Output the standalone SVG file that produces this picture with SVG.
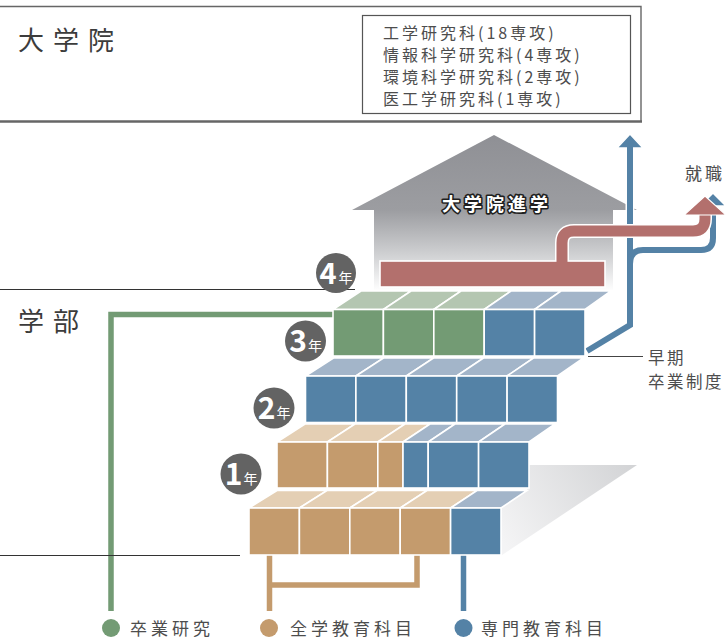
<svg xmlns="http://www.w3.org/2000/svg" width="726" height="639" viewBox="0 0 726 639">
<defs>
<style>
.cjk{font-family:"Noto Sans CJK JP","Noto Sans",sans-serif}
.lbl{fill:#4d4d4d}
.face{stroke:#fff;stroke-width:1.6;stroke-linejoin:miter}
.ft{fill:#c49b6d}.tt{fill:#e4cfb4}
.fb{fill:#5482a6}.tb{fill:#a3b5c9}
.fg{fill:#739b74}.tg{fill:#b4c6b1}
.badge{fill:#636363}
.bnum{fill:#fff;font-family:"Noto Sans CJK JP","Noto Sans",sans-serif;text-anchor:middle;font-weight:600}
.byr{fill:#fff;font-family:"Noto Sans CJK JP","Noto Sans",sans-serif;text-anchor:middle;font-weight:normal}
.halo{fill:none;stroke:#fff;stroke-linejoin:round}
</style>
<linearGradient id="houseG" gradientUnits="userSpaceOnUse" x1="0" y1="135" x2="0" y2="296">
<stop offset="0" stop-color="#8f9095"/>
<stop offset="0.466" stop-color="#9c9da1"/>
<stop offset="0.745" stop-color="#d0d1d3"/>
<stop offset="0.97" stop-color="#ffffff"/>
</linearGradient>
<linearGradient id="shadowG" gradientUnits="userSpaceOnUse" x1="505" y1="545" x2="632" y2="466">
<stop offset="0" stop-color="#f4f4f5"/>
<stop offset="1" stop-color="#d3d4d6"/>
</linearGradient>
</defs>
<rect width="726" height="639" fill="#fff"/>

<g id="graduate-panel">
<path d="M0,6.5 H641 V121.5" fill="none" stroke="#666" stroke-width="1.4"/>
<line x1="0" y1="121.5" x2="642" y2="121.5" stroke="#666" stroke-width="2.4"/>
<text class="cjk" x="18" y="38" font-size="26" letter-spacing="9" fill="#3c3c3c" dominant-baseline="central">大学院</text>
<g id="graduate-list">
<rect x="362.5" y="15.5" width="268" height="98" fill="#fff" stroke="#555" stroke-width="1.2"/>
<text class="cjk lbl" font-size="16" letter-spacing="3" dominant-baseline="central">
<tspan x="383" y="31.5">工学研究科(18専攻)</tspan>
<tspan x="383" y="53.5">情報科学研究科(4専攻)</tspan>
<tspan x="383" y="75.5">環境科学研究科(2専攻)</tspan>
<tspan x="383" y="97.5">医工学研究科(1専攻)</tspan>
</text>
</g>
</g>

<g id="undergrad-panel">
<text class="cjk" x="18" y="319" font-size="26" letter-spacing="9" fill="#3c3c3c" dominant-baseline="central">学部</text>
</g>

<g id="house">
<path d="M352,210 L494,135 L637,210 L613,210 L613,296 L374,296 L374,210 Z" fill="url(#houseG)"/>
</g>

<g id="connectors">
<g id="pipes">
<path class="halo" stroke-width="9" d="M587,351 L630,325 L630,148"/>
<path class="halo" stroke-width="9" d="M630,264 Q630,250 643,250 L701,250 Q713,250 713,238 L713,206"/>
<polygon points="617,148 630,134 643,148" fill="#5482a6" stroke="#fff" stroke-width="1.5"/>
<polygon points="700,206 713,193 726,206" fill="#5482a6" stroke="#fff" stroke-width="1.5"/>
<path d="M587,351 L630,325 L630,147" fill="none" stroke="#5482a6" stroke-width="6"/>
<path d="M630,264 Q630,250 643,250 L701,250 Q713,250 713,238 L713,205" fill="none" stroke="#5482a6" stroke-width="6"/>
<path class="halo" stroke-width="14" d="M562,262 L562,243 Q562,231 574,231 L693,231 Q705,231 705,219 L705,214"/>
<rect x="380" y="261" width="225" height="26" fill="#b3706d" stroke="#fff" stroke-width="1.6"/>
<path d="M562,268 L562,243 Q562,231 574,231 L693,231 Q705,231 705,219 L705,213" fill="none" stroke="#b3706d" stroke-width="11"/>
<polygon points="684,215 705,196 726,215" fill="#b3706d" stroke="#fff" stroke-width="1.2"/>
</g>
<path d="M333,314.5 H111 V611" fill="none" stroke="#739b74" stroke-width="5.5"/>
<path d="M269.5,555 V611 M269.5,585 H417 V555" fill="none" stroke="#c49b6d" stroke-width="5.5"/>
<path d="M463.5,555 V611" fill="none" stroke="#5482a6" stroke-width="5.5"/>
<line x1="0" y1="289.5" x2="355" y2="289.5" stroke="#333" stroke-width="1"/>
<line x1="0" y1="555.5" x2="240" y2="555.5" stroke="#333" stroke-width="1"/>
<line x1="588" y1="356.5" x2="643" y2="356.5" stroke="#444" stroke-width="1"/>
</g>

<text id="house-label" class="cjk" x="497" y="203" font-size="18" font-weight="bold" letter-spacing="4" text-anchor="middle" dominant-baseline="central" fill="#fff" stroke="#1f1f1f" stroke-width="3.2" stroke-linejoin="round" paint-order="stroke">大学院進学</text>

<polygon id="shadow" points="528,465 637,465 502,555 502,508 527,490 528,488" fill="url(#shadowG)"/>

<g id="row1-bottom">
<polygon class="face tt" points="249,508 299.4,508 327,490.5 277,490.5"/>
<polygon class="face tt" points="299.4,508 349.8,508 377,490.5 327,490.5"/>
<polygon class="face tt" points="349.8,508 400.2,508 427,490.5 377,490.5"/>
<polygon class="face tt" points="400.2,508 450.6,508 477,490.5 427,490.5"/>
<polygon class="face tb" points="450.6,508 501,508 527,490.5 477,490.5"/>
<rect class="face ft" x="249" y="508" width="50.4" height="47"/>
<rect class="face ft" x="299.4" y="508" width="50.4" height="47"/>
<rect class="face ft" x="349.8" y="508" width="50.4" height="47"/>
<rect class="face ft" x="400.2" y="508" width="50.4" height="47"/>
<rect class="face fb" x="450.6" y="508" width="50.4" height="47"/>
</g>

<g id="row1-top">
<polygon class="face tt" points="277,442 327.4,442 355,424 305,424"/>
<polygon class="face tt" points="327.4,442 377.8,442 405,424 355,424"/>
<polygon class="face tt" points="377.8,442 403,442 430,424 405,424"/>
<polygon class="face tb" points="403,442 428.2,442 455,424 430,424"/>
<polygon class="face tb" points="428.2,442 478.6,442 505,424 455,424"/>
<polygon class="face tb" points="478.6,442 529,442 555,424 505,424"/>
<rect class="face ft" x="277" y="442" width="50.4" height="46"/>
<rect class="face ft" x="327.4" y="442" width="50.4" height="46"/>
<rect class="face ft" x="377.8" y="442" width="25.2" height="46"/>
<rect class="face fb" x="403" y="442" width="25.2" height="46"/>
<rect class="face fb" x="428.2" y="442" width="50.4" height="46"/>
<rect class="face fb" x="478.6" y="442" width="50.4" height="46"/>
</g>

<g id="row2">
<polygon class="face tb" points="305.5,376 355.9,376 383.5,358 333.5,358"/>
<polygon class="face tb" points="355.9,376 406.3,376 433.5,358 383.5,358"/>
<polygon class="face tb" points="406.3,376 456.7,376 483.5,358 433.5,358"/>
<polygon class="face tb" points="456.7,376 507.1,376 533.5,358 483.5,358"/>
<polygon class="face tb" points="507.1,376 557.5,376 583.5,358 533.5,358"/>
<rect class="face fb" x="305.5" y="376" width="50.4" height="46.5"/>
<rect class="face fb" x="355.9" y="376" width="50.4" height="46.5"/>
<rect class="face fb" x="406.3" y="376" width="50.4" height="46.5"/>
<rect class="face fb" x="456.7" y="376" width="50.4" height="46.5"/>
<rect class="face fb" x="507.1" y="376" width="50.4" height="46.5"/>
</g>

<g id="row3">
<polygon class="face tg" points="333,309.5 383.4,309.5 411,291 361,291"/>
<polygon class="face tg" points="383.4,309.5 433.8,309.5 461,291 411,291"/>
<polygon class="face tg" points="433.8,309.5 484.2,309.5 511,291 461,291"/>
<polygon class="face tb" points="484.2,309.5 534.6,309.5 561,291 511,291"/>
<polygon class="face tb" points="534.6,309.5 585,309.5 611,291 561,291"/>
<rect class="face fg" x="333" y="309.5" width="50.4" height="46.5"/>
<rect class="face fg" x="383.4" y="309.5" width="50.4" height="46.5"/>
<rect class="face fg" x="433.8" y="309.5" width="50.4" height="46.5"/>
<rect class="face fb" x="484.2" y="309.5" width="50.4" height="46.5"/>
<rect class="face fb" x="534.6" y="309.5" width="50.4" height="46.5"/>
</g>

<g id="year4">
<circle class="badge" cx="336" cy="273" r="20"/>
<text class="bnum" x="328" y="283.5" font-size="29">4</text>
<text class="byr" x="345.5" y="282.5" font-size="14">年</text>
</g>
<g id="year3">
<circle class="badge" cx="305.5" cy="341" r="20.5"/>
<text class="bnum" x="298" y="352" font-size="30">3</text>
<text class="byr" x="315" y="351" font-size="14">年</text>
</g>
<g id="year2">
<circle class="badge" cx="274" cy="408" r="20.5"/>
<text class="bnum" x="266.5" y="419" font-size="30">2</text>
<text class="byr" x="283.5" y="418" font-size="14">年</text>
</g>
<g id="year1">
<circle class="badge" cx="241" cy="474" r="20.5"/>
<text class="bnum" x="233.5" y="485" font-size="30">1</text>
<text class="byr" x="250.5" y="484" font-size="14">年</text>
</g>

<g id="label-employment">
<text class="cjk lbl" x="685" y="172" font-size="17" letter-spacing="3" dominant-baseline="central">就職</text>
</g>
<g id="label-early">
<text class="cjk lbl" x="648" y="357" font-size="16.5" letter-spacing="2.5" dominant-baseline="central">早期</text>
<text class="cjk lbl" x="648" y="381" font-size="16.5" letter-spacing="2.5" dominant-baseline="central">卒業制度</text>
</g>

<g id="legend">
<g id="legend-research">
<circle cx="111" cy="628" r="9" fill="#739b74"/>
<text class="cjk lbl" x="130" y="627" font-size="17" letter-spacing="4" dominant-baseline="central">卒業研究</text>
</g>
<g id="legend-general">
<circle cx="269" cy="628" r="9" fill="#c49b6d"/>
<text class="cjk lbl" x="290" y="627" font-size="17" letter-spacing="4" dominant-baseline="central">全学教育科目</text>
</g>
<g id="legend-major">
<circle cx="463.5" cy="628" r="9" fill="#5482a6"/>
<text class="cjk lbl" x="481" y="627" font-size="17" letter-spacing="4" dominant-baseline="central">専門教育科目</text>
</g>
</g>
</svg>
